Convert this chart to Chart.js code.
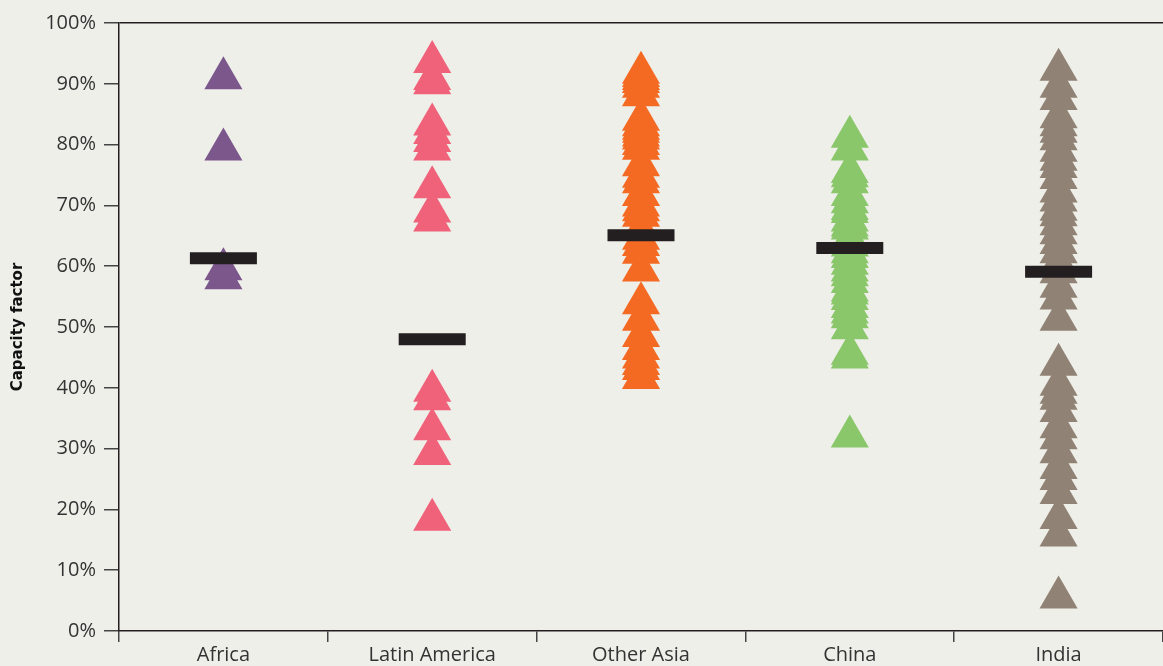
<!DOCTYPE html>
<html lang="en">
<head>
  <meta charset="UTF-8">
  <title>Capacity factor by region</title>
  <script src="https://cdn.jsdelivr.net/npm/chart.js"></script>
  <style>
    html, body {
      margin: 0;
      padding: 0;
      background: #efefea;
      overflow: hidden;
    }
    #wrap {
      width: 1163px;
      height: 666px;
    }
  </style>
</head>
<body>
  <div id="wrap"><canvas id="cfChart"></canvas></div>

  <script>
    const regions = ["Africa", "Latin America", "Other Asia", "China", "India"];
    const colors = ["#7b578c", "#f0627a", "#f46a23", "#8ac76a", "#908274"];

    // capacity factor of each plant, %
    const africa = [90.9, 79.2, 59.5, 58.0];
    const latinAmerica = [93.6, 90.8, 90.1, 83.3, 81.9, 80.6, 79.2, 73.0, 69.0, 67.5, 39.5, 38.1, 33.2, 29.1, 18.3];
    const otherAsia = [91.8, 91.3, 90.8, 90.3, 89.5, 88.1, 84.1, 83.2, 82.6, 82.1, 81.5, 81.0, 80.1, 79.3,
      76.6, 74.7, 73.8, 71.7, 70.0, 69.2, 68.3, 66.0, 64.5, 63.5, 62.2, 59.3,
      53.9, 51.2, 48.5, 46.4, 45.0, 43.9, 43.1, 41.6];
    const china = [81.3, 79.2, 75.5, 74.8, 73.8, 71.7, 70.5, 69.4, 68.9, 67.5, 66.7, 66.2, 64.5, 63.4,
      62.3, 61.5, 60.4, 59.3, 58.5, 57.4, 56.0, 55.5, 54.6, 53.3, 52.4, 51.6, 49.8, 45.6, 45.0, 32.0];
    const india = [92.3, 89.5, 87.5, 84.5, 83.2, 82.1, 80.9, 79.0, 77.5, 76.3, 74.5, 72.3, 70.8, 69.3,
      68.4, 66.9, 65.4, 63.8, 62.3, 60.5, 59.0, 56.6, 54.7, 51.2, 43.8, 40.5, 39.2, 38.2, 36.2, 33.5,
      31.7, 29.4, 26.8, 25.0, 22.7, 18.6, 15.7, 5.5];
    const averages = [61.3, 48.0, 65.1, 63.0, 59.1];

    const yTicks = [0, 10, 20, 30, 40, 50, 60, 70, 80, 90, 100];

    const plants = [africa, latinAmerica, otherAsia, china, india];
    const txt = "#333333";
    const axis = "#231f20";
    const font = { family: "'Open Sans', sans-serif", size: 20 };

    const datasets = [{
      label: "Average",
      data: regions.map((r, i) => ({ x: r, y: averages[i] })),
      pointStyle: "line",
      pointRadius: 33.5,
      pointHoverRadius: 33.5,
      pointBorderWidth: 12,
      pointBorderColor: axis,
      borderColor: axis,
      showLine: false,
      order: 0
    }];
    plants.forEach((vals, i) => {
      datasets.push({
        label: regions[i],
        data: vals.map(v => ({ x: regions[i], y: v })),
        pointStyle: "triangle",
        pointRadius: 22,
        pointHoverRadius: 22,
        pointBorderWidth: 0,
        backgroundColor: colors[i],
        pointBackgroundColor: colors[i],
        borderColor: colors[i],
        showLine: false,
        order: 1
      });
    });

    new Chart(document.getElementById("cfChart"), {
      type: "line",
      data: { labels: regions, datasets },
      options: {
        responsive: true,
        maintainAspectRatio: false,
        animation: false,
        layout: { autoPadding: false, padding: { top: 23, right: 0, left: 0, bottom: 0 } },
        plugins: {
          legend: { display: false },
          tooltip: { enabled: false }
        },
        scales: {
          x: {
            type: "category",
            offset: true,
            grid: {
              offset: true,
              drawOnChartArea: false,
              tickLength: 11,
              tickColor: "#444",
              lineWidth: 1.5
            },
            border: { color: axis, width: 1.5 },
            ticks: { color: txt, font, padding: 1, maxRotation: 0 },
            afterFit: s => { s.height = 35; }
          },
          y: {
            min: 0,
            max: 100,
            afterBuildTicks: s => { s.ticks = yTicks.map(v => ({ value: v })); },
            grid: {
              color: c => (c.tick && c.tick.value === 100 ? axis : "rgba(0,0,0,0)"),
              tickColor: "#444",
              tickLength: 15,
              lineWidth: 1.5
            },
            border: { color: axis, width: 1.5 },
            ticks: {
              color: txt,
              font,
              padding: 8,
              callback: v => v + "%"
            },
            title: {
              display: true,
              text: "Capacity factor",
              color: "#111",
              font: { family: "'DejaVu Sans', sans-serif", size: 15, weight: "bold" },
              padding: { top: 9, bottom: 0 }
            },
            afterFit: s => { s.width = 119; }
          }
        }
      }
    });
  </script>
</body>
</html>
